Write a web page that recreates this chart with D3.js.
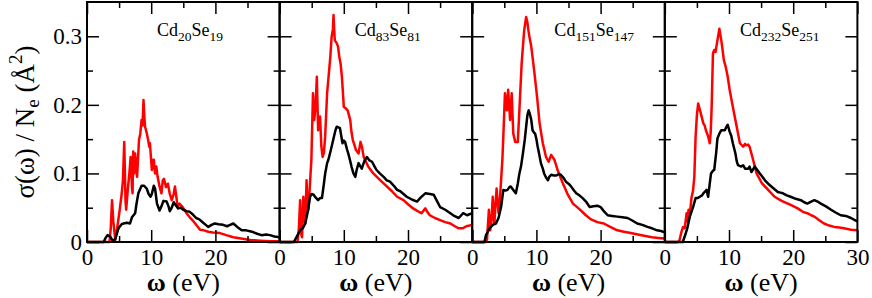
<!DOCTYPE html>
<html>
<head>
<meta charset="utf-8">
<script src="https://cdn.jsdelivr.net/npm/d3@7"></script>
<style>
body{margin:0;background:#fff}
text{font-family:"Liberation Serif","Times New Roman",serif}
</style>
</head>
<body>
<div id="chart"></div>
<script>
// [energy (eV), sigma/Ne (A^2)]
var cd20Black = [[0,0],[2.6,0],[2.9,0.006],[3.2,0.01],[3.6,0.008],[4.0,0.002],[4.4,0.004],[4.9,0.02],[5.4,0.026],[5.7,0.027],[6.2,0.028],[6.7,0.027],[7.0,0.036],[7.5,0.042],[7.7,0.055],[8.0,0.071],[8.5,0.082],[8.9,0.082],[9.3,0.078],[9.6,0.07],[9.9,0.066],[10.1,0.07],[10.4,0.082],[10.6,0.078],[10.9,0.056],[11.3,0.046],[11.6,0.052],[11.9,0.06],[12.4,0.059],[12.7,0.052],[12.9,0.045],[13.2,0.05],[13.5,0.058],[13.8,0.054],[14.2,0.049],[14.6,0.05],[15.0,0.047],[15.5,0.045],[16.0,0.044],[16.5,0.04],[17.0,0.035],[17.5,0.033],[18.1,0.028],[18.5,0.025],[18.9,0.022],[19.4,0.025],[19.9,0.027],[20.5,0.026],[21.2,0.025],[21.8,0.023],[22.3,0.025],[22.8,0.027],[23.4,0.022],[24.1,0.017],[24.8,0.017],[25.7,0.015],[26.5,0.012],[27.2,0.010],[27.9,0.011],[28.5,0.010],[29.2,0.008],[30,0.007]]
var cd20Red = [[0,0],[3.5,0],[3.7,0.02],[3.9,0.061],[4.1,0.03],[4.4,0.003],[4.7,0.02],[5.1,0.047],[5.4,0.07],[5.6,0.09],[5.8,0.146],[6.0,0.06],[6.1,0.047],[6.4,0.081],[6.6,0.1],[6.8,0.124],[7.0,0.08],[7.1,0.071],[7.2,0.132],[7.35,0.1],[7.5,0.129],[7.8,0.095],[8.1,0.149],[8.3,0.158],[8.5,0.178],[8.65,0.17],[8.8,0.207],[8.95,0.18],[9.05,0.168],[9.3,0.159],[9.5,0.15],[9.7,0.139],[9.8,0.144],[10.1,0.105],[10.3,0.12],[10.4,0.12],[10.6,0.1],[10.8,0.11],[11.0,0.095],[11.3,0.081],[11.6,0.071],[11.8,0.09],[12.0,0.092],[12.3,0.08],[12.6,0.085],[12.9,0.07],[13.2,0.061],[13.5,0.07],[13.7,0.081],[14.0,0.06],[14.1,0.051],[14.4,0.056],[14.8,0.052],[15.1,0.048],[15.5,0.042],[16.0,0.036],[16.6,0.03],[17.1,0.024],[17.6,0.018],[18.2,0.017],[18.9,0.015],[19.6,0.014],[20.7,0.013],[21.7,0.01],[22.8,0.007],[24.0,0.005],[25.4,0.003],[27.0,0.002],[28.5,0.001],[30,0.001]]

var cd83Black = [[0,0],[2.2,0],[2.4,0.003],[2.8,0.01],[3.2,0.017],[3.6,0.02],[4.0,0.027],[4.4,0.045],[4.75,0.066],[5.0,0.07],[5.3,0.069],[5.6,0.065],[6.0,0.061],[6.3,0.064],[6.6,0.064],[6.9,0.085],[7.1,0.1],[7.4,0.115],[7.6,0.12],[8.0,0.135],[8.4,0.151],[8.7,0.163],[8.9,0.168],[9.2,0.167],[9.4,0.166],[9.6,0.155],[9.8,0.144],[10.0,0.148],[10.2,0.146],[10.5,0.135],[10.7,0.129],[11.0,0.118],[11.2,0.11],[11.5,0.1],[11.8,0.095],[12.0,0.105],[12.3,0.115],[12.6,0.11],[12.8,0.107],[13.2,0.118],[13.6,0.124],[14.0,0.119],[14.4,0.117],[14.8,0.11],[15.1,0.105],[15.6,0.1],[16.2,0.095],[16.7,0.09],[17.2,0.088],[17.8,0.082],[18.3,0.076],[18.8,0.074],[19.3,0.07],[19.8,0.066],[20.6,0.062],[21.4,0.059],[22.0,0.065],[22.7,0.071],[23.4,0.07],[24.0,0.069],[24.5,0.06],[25.0,0.051],[25.8,0.047],[26.6,0.042],[27.2,0.038],[27.9,0.035],[28.6,0.042],[29.2,0.039],[30,0.042]]
var cd83Red = [[0,0],[2.8,0],[3.0,0.02],[3.2,0.061],[3.4,0.01],[3.5,0.007],[3.7,0.066],[3.9,0.03],[4.0,0.027],[4.2,0.09],[4.35,0.05],[4.5,0.047],[4.75,0.088],[4.95,0.12],[5.2,0.217],[5.4,0.178],[5.6,0.197],[5.8,0.241],[6.0,0.163],[6.3,0.183],[6.5,0.14],[6.7,0.124],[6.9,0.13],[7.1,0.154],[7.4,0.217],[7.9,0.27],[8.1,0.299],[8.3,0.31],[8.4,0.331],[8.5,0.31],[8.6,0.294],[8.9,0.29],[9.1,0.285],[9.3,0.27],[9.5,0.26],[9.7,0.241],[9.85,0.22],[10.0,0.197],[10.3,0.195],[10.6,0.192],[11.0,0.178],[11.2,0.16],[11.4,0.149],[11.9,0.134],[12.3,0.129],[12.6,0.146],[12.8,0.14],[13.1,0.124],[13.8,0.11],[14.6,0.1],[15.7,0.09],[16.7,0.081],[17.5,0.074],[18.3,0.066],[19.3,0.061],[20.0,0.055],[20.8,0.049],[21.5,0.045],[22.1,0.042],[22.7,0.049],[23.0,0.044],[23.4,0.039],[24.2,0.035],[25.0,0.032],[25.8,0.029],[26.6,0.027],[27.3,0.023],[27.9,0.02],[28.5,0.02],[29.1,0.023],[30,0.025]]

var cd151Black = [[0,0],[1.9,0],[2.15,0.01],[2.7,0.02],[3.2,0.025],[3.7,0.027],[4.1,0.035],[4.5,0.051],[4.85,0.076],[5.2,0.075],[5.5,0.076],[5.8,0.08],[6.0,0.081],[6.4,0.076],[6.8,0.071],[7.1,0.085],[7.35,0.1],[7.6,0.11],[7.9,0.129],[8.2,0.15],[8.4,0.168],[8.6,0.185],[8.8,0.192],[9.0,0.186],[9.2,0.178],[9.4,0.163],[9.6,0.16],[9.8,0.158],[10.0,0.15],[10.2,0.139],[10.5,0.125],[10.7,0.115],[11.0,0.107],[11.2,0.1],[11.5,0.094],[11.8,0.09],[12.0,0.095],[12.3,0.098],[12.7,0.097],[13.1,0.097],[13.5,0.099],[13.8,0.098],[14.2,0.094],[14.6,0.088],[15.0,0.085],[15.4,0.081],[15.8,0.076],[16.2,0.071],[16.7,0.068],[17.2,0.064],[17.8,0.058],[18.3,0.051],[18.9,0.052],[19.5,0.053],[20.0,0.051],[20.5,0.045],[21.1,0.039],[21.8,0.038],[22.6,0.037],[23.4,0.036],[24.2,0.035],[25.0,0.031],[25.7,0.027],[26.5,0.025],[27.3,0.022],[28.0,0.02],[28.8,0.017],[29.4,0.016],[30,0.014]]
var cd151Red = [[0,0],[2.1,0],[2.3,0.003],[2.6,0.047],[2.8,0.017],[3.0,0.03],[3.2,0.066],[3.45,0.027],[3.6,0.05],[3.8,0.078],[4.1,0.042],[4.3,0.06],[4.5,0.09],[4.7,0.12],[4.85,0.154],[5.1,0.217],[5.4,0.192],[5.6,0.222],[5.9,0.178],[6.15,0.217],[6.4,0.158],[6.7,0.146],[7.1,0.146],[7.35,0.192],[7.7,0.26],[7.9,0.285],[8.1,0.309],[8.4,0.328],[8.6,0.32],[8.75,0.309],[8.9,0.3],[9.2,0.285],[9.5,0.262],[9.7,0.246],[10.1,0.212],[10.5,0.173],[11.0,0.144],[11.5,0.124],[11.9,0.117],[12.3,0.127],[12.8,0.12],[13.3,0.105],[14.1,0.086],[14.9,0.069],[15.7,0.056],[16.7,0.048],[17.7,0.039],[18.5,0.033],[19.5,0.029],[20.5,0.027],[21.5,0.022],[22.6,0.017],[23.6,0.015],[24.7,0.013],[25.8,0.011],[26.8,0.009],[28.0,0.007],[29.0,0.006],[30,0.005]]

var cd232Black = [[0,0],[2.8,0],[3.1,0.008],[3.5,0.02],[3.9,0.037],[4.4,0.051],[4.8,0.064],[5.1,0.064],[5.45,0.066],[5.8,0.068],[6.0,0.071],[6.3,0.074],[6.5,0.076],[6.75,0.066],[7.0,0.085],[7.2,0.1],[7.5,0.104],[7.7,0.105],[8.0,0.13],[8.2,0.151],[8.5,0.158],[8.8,0.163],[9.1,0.163],[9.35,0.163],[9.6,0.168],[9.8,0.171],[10.1,0.161],[10.35,0.155],[10.6,0.144],[11.0,0.129],[11.2,0.118],[11.4,0.112],[11.9,0.11],[12.2,0.112],[12.5,0.107],[13.0,0.107],[13.2,0.11],[13.5,0.102],[14.0,0.11],[14.4,0.105],[14.8,0.1],[15.2,0.095],[15.6,0.09],[16.1,0.085],[16.6,0.081],[17.1,0.077],[17.6,0.073],[18.0,0.072],[18.4,0.071],[19.0,0.068],[19.6,0.066],[20.4,0.063],[21.2,0.061],[21.7,0.058],[22.2,0.056],[22.8,0.059],[23.3,0.061],[23.8,0.059],[24.3,0.056],[25.1,0.052],[25.9,0.047],[26.6,0.043],[27.4,0.039],[28.2,0.038],[29.0,0.035],[29.6,0.032],[30,0.03]]
var cd232Red = [[0,0],[2.1,0],[2.3,0.003],[2.6,0.015],[2.85,0.022],[3.1,0.02],[3.4,0.042],[3.5,0.03],[3.7,0.047],[3.9,0.04],[4.15,0.064],[4.4,0.075],[4.6,0.095],[4.8,0.154],[5.0,0.185],[5.2,0.202],[5.4,0.195],[5.6,0.188],[6.0,0.173],[6.2,0.17],[6.4,0.163],[6.75,0.154],[7.0,0.144],[7.15,0.16],[7.3,0.197],[7.5,0.275],[7.7,0.28],[7.9,0.277],[8.2,0.294],[8.5,0.311],[8.8,0.294],[9.0,0.28],[9.2,0.265],[9.5,0.255],[9.8,0.241],[10.1,0.222],[10.6,0.197],[11.2,0.168],[11.7,0.144],[12.2,0.139],[12.5,0.143],[12.7,0.141],[13.0,0.142],[13.2,0.139],[13.75,0.12],[14.3,0.1],[15.1,0.086],[16.1,0.076],[17.1,0.066],[18.2,0.06],[19.6,0.054],[20.7,0.049],[21.5,0.044],[22.2,0.042],[22.8,0.039],[23.3,0.037],[24.0,0.032],[24.8,0.027],[25.6,0.024],[26.4,0.022],[27.2,0.021],[27.9,0.02],[29.0,0.018],[30,0.017]]

var cdCount = ["20","83","151","232"]
var seCount = ["19","81","147","251"]
var blackSeries = [cd20Black, cd83Black, cd151Black, cd232Black]
var redSeries = [cd20Red, cd83Red, cd151Red, cd232Red]
var xMajor = [0,10,20,30]
var xMinor = [5,15,25]
var yMajor = [0,0.1,0.2,0.3]
var yMinor = [0.05,0.15,0.25]

var w = 872
var h = 298
var marginLeft = 87
var marginTop = 2
var pw = 192.6
var ph = 240
var labelX = [10.9,11.7,12.8,11.7]   // eV where the cluster name starts

var svg = d3.select("#chart").append("svg").attr("width",w).attr("height",h)
svg.append("rect").attr("width",w).attr("height",h).attr("fill","#fff")

var x = d3.scaleLinear().domain([0,30]).range([0,pw])
var y = d3.scaleLinear().domain([0,0.35]).range([ph,0])
var line = d3.line().x(function(d){return x(d[0])}).y(function(d){return y(d[1])})

function styleAxis(g,size){
	g.select(".domain").remove()
	g.selectAll(".tick line").attr("stroke","#000").attr("stroke-width",1.5)
	g.attr("font-family","'Liberation Serif','Times New Roman',serif").attr("font-size",size)
	g.selectAll("text").attr("fill","#000")
}

for(var i=0;i<4;i++){
	var g = svg.append("g").attr("transform","translate("+(marginLeft+i*pw)+","+marginTop+")")

	g.append("path").datum(redSeries[i]).attr("d",line)
	.attr("fill","none").attr("stroke","#ff0000").attr("stroke-width",2.5).attr("stroke-linejoin","round")
	g.append("path").datum(blackSeries[i]).attr("d",line)
	.attr("fill","none").attr("stroke","#000").attr("stroke-width",2.5).attr("stroke-linejoin","round")

	// ticks, all pointing inward
	var xl = i==3 ? xMajor : xMajor.slice(0,3)
	g.append("g").attr("transform","translate(0,"+ph+")")
	.call(d3.axisBottom(x).tickValues(xMajor).tickSize(-12).tickPadding(7)
		.tickFormat(function(d){return xl.indexOf(d)>-1 ? d : ""}))
	.call(styleAxis,23)
	g.append("g").attr("transform","translate(0,"+ph+")")
	.call(d3.axisBottom(x).tickValues(xMinor).tickSize(-6).tickFormat(""))
	.call(styleAxis,23)
	g.append("g").call(d3.axisTop(x).tickValues(xMajor).tickSize(-12).tickFormat("")).call(styleAxis,23)
	g.append("g").call(d3.axisTop(x).tickValues(xMinor).tickSize(-6).tickFormat("")).call(styleAxis,23)

	g.append("g")
	.call(d3.axisLeft(y).tickValues(yMajor).tickSize(-12).tickPadding(5)
		.tickFormat(function(d){ if(i>0) return ""; return d==0 ? "0" : d3.format(".1f")(d)}))
	.call(styleAxis,23)
	g.append("g").call(d3.axisLeft(y).tickValues(yMinor).tickSize(-6).tickFormat("")).call(styleAxis,23)
	g.append("g").attr("transform","translate("+pw+",0)")
	.call(d3.axisRight(y).tickValues(yMajor).tickSize(-12).tickFormat("")).call(styleAxis,23)
	g.append("g").attr("transform","translate("+pw+",0)")
	.call(d3.axisRight(y).tickValues(yMinor).tickSize(-6).tickFormat("")).call(styleAxis,23)

	g.append("rect").attr("width",pw).attr("height",ph)
	.attr("fill","none").attr("stroke","#000").attr("stroke-width",2)

	// cluster name
	var lab = g.append("text").attr("x",x(labelX[i])).attr("y",34).attr("font-size",18).attr("fill","#000")
	lab.append("tspan").text("Cd")
	lab.append("tspan").text(cdCount[i]).attr("font-size",13.5).attr("dy",5)
	lab.append("tspan").text("Se").attr("dy",-5)
	lab.append("tspan").text(seCount[i]).attr("font-size",13.5).attr("dy",5)

	// x title
	var xt = g.append("text").attr("x",pw/2).attr("y",289).attr("text-anchor","middle").attr("font-size",26).attr("fill","#000")
	xt.append("tspan").text("ω").attr("font-weight","bold")
	xt.append("tspan").text(" (eV)")
}

var yt = svg.append("text").attr("transform","translate(34,"+(marginTop+ph/2)+") rotate(-90)")
.attr("text-anchor","middle").attr("font-size",27).attr("fill","#000")
yt.append("tspan").text("σ(ω) / N")
yt.append("tspan").text("e").attr("font-size",19).attr("dy",5)
yt.append("tspan").text(" (Å").attr("dy",-5)
yt.append("tspan").text("2").attr("font-size",19).attr("dy",-12)
yt.append("tspan").text(")").attr("dy",12)
</script>
</body>
</html>
